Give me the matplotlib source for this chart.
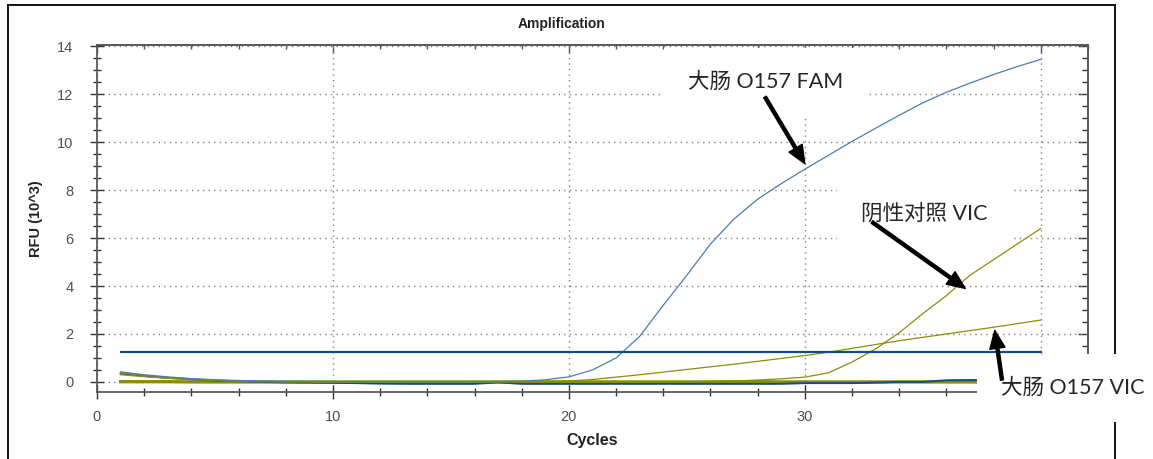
import matplotlib
matplotlib.use("Agg")
import matplotlib.pyplot as plt
from matplotlib.lines import Line2D
from matplotlib.ticker import MultipleLocator

# data (RFU in 10^3)
cycles = list(range(1, 41))

fam_sample = [0.42, 0.30, 0.21, 0.14, 0.09, 0.06, 0.04, 0.03, 0.02, 0.01,
              0.01, 0.00, 0.00, 0.00, 0.00, 0.00, 0.01, 0.03, 0.09, 0.21,
              0.50, 1.00, 1.90, 3.20, 4.45, 5.75, 6.80, 7.62, 8.27, 8.87,
              9.45, 10.03, 10.58, 11.12, 11.64, 12.08, 12.46, 12.82, 13.15, 13.45]

fam_neg = [0.35, 0.25, 0.17, 0.11, 0.06, 0.03, 0.00, -0.02, -0.03, -0.04,
           -0.05, -0.07, -0.08, -0.08, -0.08, -0.08, -0.02, -0.08, -0.08, -0.08,
           -0.08, -0.08, -0.08, -0.08, -0.08, -0.08, -0.08, -0.08, -0.08, -0.05,
           -0.05, -0.05, -0.03, 0.00, 0.00, 0.07, 0.08, 0.08, 0.08, 0.08]

vic_sample = [0.37, 0.27, 0.19, 0.12, 0.07, 0.04, 0.02, 0.01, 0.00, 0.00,
              0.00, 0.00, 0.00, 0.00, 0.00, 0.00, 0.00, 0.01, 0.02, 0.04,
              0.10, 0.20, 0.30, 0.41, 0.52, 0.63, 0.74, 0.86, 0.98, 1.10,
              1.24, 1.40, 1.56, 1.72, 1.86, 2.00, 2.14, 2.28, 2.43, 2.58]

vic_neg = [0.30, 0.22, 0.15, 0.10, 0.06, 0.03, 0.01, 0.00, 0.00, 0.00,
           0.00, 0.00, 0.00, 0.00, 0.00, 0.00, 0.00, 0.00, 0.00, 0.00,
           0.00, 0.00, 0.00, 0.00, 0.00, 0.02, 0.04, 0.08, 0.13, 0.20,
           0.38, 0.83, 1.38, 2.05, 2.85, 3.60, 4.45, 5.10, 5.75, 6.40]

vic_blank = [0.01, 0.01, 0.01, 0.00, 0.00, 0.00, 0.00, 0.00, 0.00, 0.00,
             0.00, 0.00, 0.00, 0.00, 0.00, 0.00, 0.00, 0.00, 0.00, 0.00,
             0.00, 0.00, 0.00, 0.00, 0.00, 0.00, 0.01, 0.01, 0.00, 0.00,
             0.00, 0.00, 0.00, 0.00, 0.00, 0.00, 0.00, 0.00, 0.00, 0.00]

threshold = 1.25
threshold_span = [1, 40]

labels = ["大肠 O157 FAM", "阴性对照 VIC", "大肠 O157 VIC"]
arrow_tips = [(30.0, 9.1), (36.8, 3.9), (38.05, 2.15)]

W, H = 1153, 459
fig = plt.figure(figsize=(W / 100, H / 100), dpi=100)
ax = fig.add_axes([97 / W, 1 - 392 / H, (1088 - 97) / W, (392 - 45) / H])

blue_light = "#4a7cb8"
blue_dark = "#0f4d8c"
olive = "#8c8c0a"

ax.plot(cycles, vic_blank, color=olive, lw=2.4, zorder=3)
ax.plot(cycles, fam_neg, color=blue_dark, lw=1.4, zorder=3)
ax.plot(cycles, vic_neg, color=olive, lw=0.9, zorder=3)
ax.plot(cycles, vic_sample, color=olive, lw=0.9, zorder=3)
ax.plot(cycles, fam_sample, color=blue_light, lw=0.9, zorder=3)
ax.plot(threshold_span, [threshold, threshold], color=blue_dark, lw=1.6, zorder=3)

ax.set_xlim(0, 42)
ax.set_ylim(-0.42, 14.05)
ax.xaxis.set_major_locator(MultipleLocator(10))
ax.xaxis.set_minor_locator(MultipleLocator(2))
ax.yaxis.set_major_locator(MultipleLocator(2))
ax.yaxis.set_minor_locator(MultipleLocator(0.5))
ax.grid(True, which="major", color="#808080", linestyle=(0, (1, 3)), lw=1)

for s in ax.spines.values():
    s.set_color("#5a5a5a")
    s.set_linewidth(1.3)

ax.tick_params(which="major", direction="inout", length=10, width=1,
               color="#333333", labelcolor="#505050", labelsize=10.5)
ax.tick_params(which="minor", direction="inout", length=6, width=1, color="#333333")
ax.tick_params(axis="y", pad=12)
ax.tick_params(axis="x", pad=8)
for lab in ax.get_xticklabels() + ax.get_yticklabels():
    lab.set_fontfamily("Liberation Sans")

# inward ticks on top and right
top = ax.secondary_xaxis("top")
top.xaxis.set_major_locator(MultipleLocator(10))
top.xaxis.set_minor_locator(MultipleLocator(2))
top.tick_params(which="major", direction="in", length=6, width=1, color="#555555",
                labeltop=False)
top.tick_params(which="minor", direction="in", length=3, width=1, color="#555555")
right = ax.secondary_yaxis("right")
right.yaxis.set_major_locator(MultipleLocator(2))
right.yaxis.set_minor_locator(MultipleLocator(0.5))
right.tick_params(which="major", direction="in", length=7, width=1, color="#333333",
                  labelright=False)
right.tick_params(which="minor", direction="in", length=4, width=1, color="#333333")
for sa in (top, right):
    for s in sa.spines.values():
        s.set_color("#5a5a5a")
        s.set_linewidth(1.3)

ax.set_xlabel("Cycles", fontsize=11.5, fontweight="bold", family="Liberation Sans",
              color="#222222")
ax.xaxis.set_label_coords(0.5, -0.118)
ax.set_ylabel("RFU (10^3)", fontsize=10.5, fontweight="bold", family="Liberation Sans",
              color="#222222")
ax.yaxis.set_label_coords(-0.054, 0.5)

fig.text(562 / W, 1 - 24 / H, "Amplification", ha="center", va="center",
         fontsize=10, fontweight="bold", family="Liberation Sans", color="#222222")

# screenshot frame
frame = dict(color="black", lw=1.3, transform=fig.transFigure, zorder=-1)
fig.add_artist(Line2D([8 / W, 8 / W], [0, 1 - 5 / H], **frame))
fig.add_artist(Line2D([8 / W, 1115 / W], [1 - 5 / H, 1 - 5 / H], **frame))
fig.add_artist(Line2D([1115 / W, 1115 / W], [0, 1 - 5 / H], **frame))

# annotations
text_pos = [(688 / W, 1 - 82 / H), (861 / W, 1 - 213 / H), (1001 / W, 1 - 388 / H)]
tail_pos = [(765 / W, 1 - 97 / H), (872 / W, 1 - 222 / H), (1002 / W, 1 - 380 / H)]
anno_font = ["Lato", "Noto Sans CJK SC", "DejaVu Sans"]
for lab, tp, tail, tip in zip(labels, text_pos, tail_pos, arrow_tips):
    ax.text(tp[0], tp[1], lab, transform=fig.transFigure, ha="left", va="center",
            fontsize=15.5, family=anno_font, color="#262626", clip_on=False, zorder=10,
            bbox=dict(boxstyle="square,pad=1.1", fc="white", ec="none"))
    ax.annotate("", xy=tip, xycoords="data", xytext=tail, textcoords="figure fraction",
                arrowprops=dict(facecolor="black", edgecolor="black", width=2.2,
                                headwidth=11, headlength=13, shrink=0),
                annotation_clip=False, zorder=11)

fig.savefig("out.png", dpi=100)
